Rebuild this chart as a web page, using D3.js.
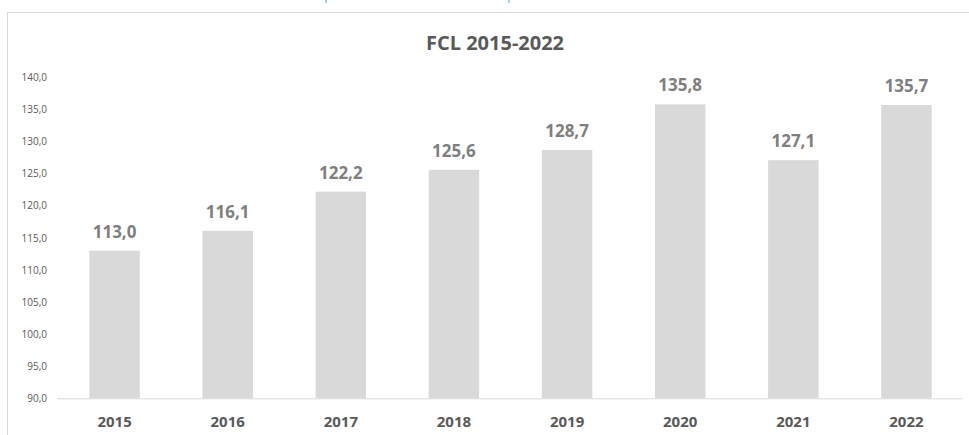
<!DOCTYPE html>
<html>
<head>
<meta charset="utf-8">
<script src="https://cdn.jsdelivr.net/npm/d3@7"></script>
<style>
  html, body { margin: 0; padding: 0; background: #fff; }
  svg { display: block; font-family: "Open Sans", "Noto Sans", sans-serif; }
</style>
</head>
<body>
<div id="chart"></div>
<script>
// FCL 2015-2022 column chart
const width = 969;
const height = 435;
const margin = { top: 77.4, right: 6, bottom: 36.7, left: 58 };

const years = ['2015', '2016', '2017', '2018', '2019', '2020', '2021', '2022'];
const values = [113.0, 116.1, 122.2, 125.6, 128.7, 135.8, 127.1, 135.7];
const yTicks = [90, 95, 100, 105, 110, 115, 120, 125, 130, 135, 140];
const chartTitle = 'FCL 2015-2022';

const fmt = v => v.toFixed(1).replace('.', ',');

const svg = d3.select('#chart')
    .append('svg')
    .attr('width', width)
    .attr('height', height);

// chart frame (extends past the right/bottom edges)
svg.append('rect')
    .attr('x', 7.5)
    .attr('y', 12.5)
    .attr('width', 1000)
    .attr('height', 500)
    .attr('fill', 'none')
    .attr('stroke', '#d9d9d9')
    .attr('stroke-width', 1);

// little blue marks at the very top (cut-off from above)
svg.selectAll('.top-mark')
    .data([326, 509])
    .enter()
    .append('line')
    .attr('class', 'top-mark')
    .attr('x1', d => d).attr('x2', d => d)
    .attr('y1', 0).attr('y2', 3)
    .attr('stroke', '#5b9bd5')
    .attr('stroke-width', 1);

const x = d3.scaleBand()
    .domain(years)
    .range([margin.left, width - margin.right])
    .paddingInner(0.554)
    .paddingOuter(0.277);

const y = d3.scaleLinear()
    .domain([90, 140])
    .range([height - margin.bottom - 0.0, margin.top]);

// title
svg.append('text')
    .attr('x', 495)
    .attr('y', 50)
    .attr('text-anchor', 'middle')
    .attr('fill', '#595959')
    .style('font-weight', 'bold')
    .style('font-size', '20px')
    .text(chartTitle);

// y axis labels
const yAxis = d3.axisLeft(y)
    .tickValues(yTicks)
    .tickFormat(fmt)
    .tickSize(0)
    .tickPadding(0);

const yg = svg.append('g')
    .attr('transform', `translate(47,0)`)
    .call(yAxis);
yg.select('.domain').remove();
yg.selectAll('text')
    .attr('fill', '#595959')
    .style('font-size', '10px')
    .style('font-family', '"Open Sans", sans-serif');

// bars
svg.selectAll('.bar')
    .data(values)
    .enter()
    .append('rect')
    .attr('class', 'bar')
    .attr('x', (d, i) => x(years[i]))
    .attr('y', d => y(d))
    .attr('width', x.bandwidth())
    .attr('height', d => y(90) - y(d))
    .attr('fill', '#d9d9d9');

// baseline
svg.append('line')
    .attr('x1', margin.left - 1)
    .attr('x2', width - margin.right)
    .attr('y1', y(90) + 0.5)
    .attr('y2', y(90) + 0.5)
    .attr('stroke', '#d9d9d9')
    .attr('stroke-width', 1);

// value labels
svg.selectAll('.val')
    .data(values)
    .enter()
    .append('text')
    .attr('class', 'val')
    .attr('x', (d, i) => x(years[i]) + x.bandwidth() / 2)
    .attr('y', d => y(d) - 13)
    .attr('text-anchor', 'middle')
    .attr('fill', '#7f7f7f')
    .style('font-weight', 'bold')
    .style('font-size', '17px')
    .text(fmt);

// x axis labels
const xAxis = d3.axisBottom(x).tickSize(0).tickPadding(0);
const xg = svg.append('g')
    .attr('transform', `translate(0,${y(90)})`)
    .call(xAxis);
xg.select('.domain').remove();
xg.selectAll('text')
    .attr('dy', null)
    .attr('y', 28.4)
    .attr('fill', '#595959')
    .style('font-weight', 'bold')
    .style('font-size', '15px')
    .style('font-family', '"Open Sans", sans-serif');
</script>
</body>
</html>
